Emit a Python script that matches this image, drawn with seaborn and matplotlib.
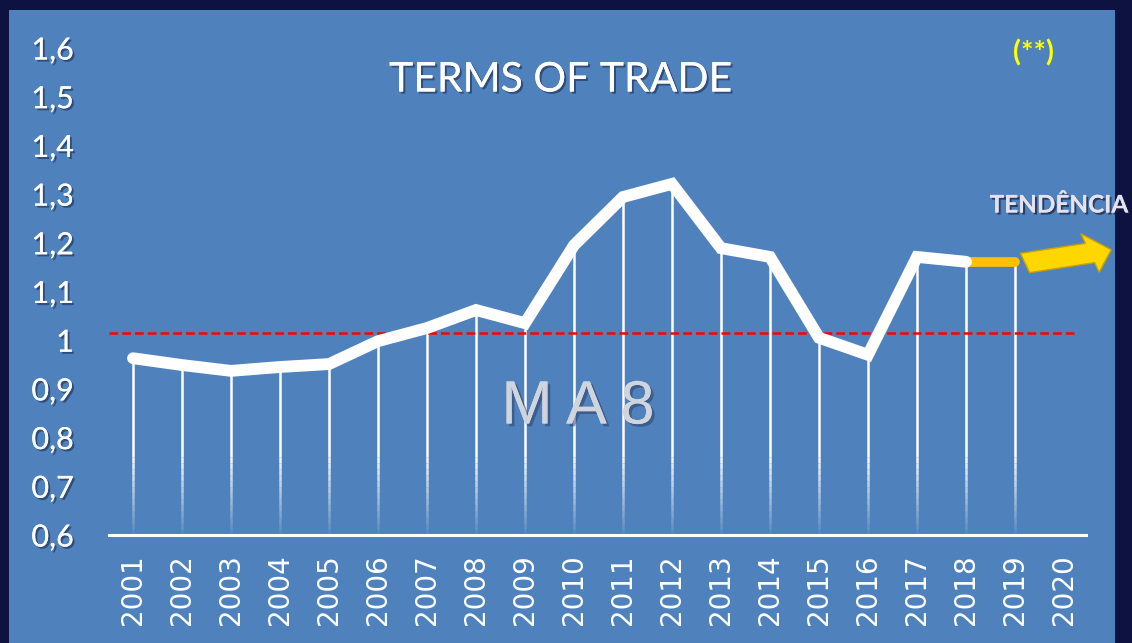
import matplotlib
matplotlib.use("Agg")
import matplotlib.pyplot as plt
import matplotlib.patheffects as pe
from matplotlib.patches import FancyArrow
import seaborn as sns
import pandas as pd
import numpy as np

years = [2001, 2002, 2003, 2004, 2005, 2006, 2007, 2008, 2009, 2010,
         2011, 2012, 2013, 2014, 2015, 2016, 2017, 2018]
values = [0.963, 0.949, 0.937, 0.945, 0.951, 0.998, 1.025, 1.062, 1.035, 1.195,
          1.294, 1.321, 1.189, 1.171, 1.005, 0.970, 1.171, 1.161]
trend_years = [2018, 2019]
trend_values = [1.161, 1.161]
tick_years = list(range(2001, 2021))
y_ticks = [0.6, 0.7, 0.8, 0.9, 1.0, 1.1, 1.2, 1.3, 1.4, 1.5, 1.6]
y_labels = ["0,6", "0,7", "0,8", "0,9", "1", "1,1", "1,2", "1,3", "1,4", "1,5", "1,6"]
ref_level = 1.015
title = "TERMS OF TRADE"

NAVY = "#0e1240"
BLUE = "#4f81bd"

sns.set_theme(style="white")
plt.rcParams["font.family"] = ["Lato", "DejaVu Sans"]

W, H = 1132, 643
fig = plt.figure(figsize=(W / 100, H / 100), dpi=100)
fig.patch.set_facecolor(NAVY)
# blue panel
fig.add_artist(plt.Rectangle((9 / W, 0), (1115 - 9) / W, (643 - 10) / H,
                             transform=fig.transFigure, facecolor=BLUE,
                             edgecolor="none", zorder=0))

ax = fig.add_axes([108.5 / W, (H - 535) / H, 980 / W, 487 / H])
ax.set_facecolor("none")
ax.set_xlim(2000.5, 2020.5)
ax.set_ylim(0.6, 1.6)
for s in ["top", "right", "left"]:
    ax.spines[s].set_visible(False)
ax.spines["bottom"].set_color("white")
ax.spines["bottom"].set_linewidth(2.2)
ax.spines["bottom"].set_bounds(2000.5, 2020.45)

# drop lines with fade toward axis
all_x = years + [trend_years[-1]]
all_y = values + [trend_values[-1]]
fade_start = 0.76
ax.vlines(all_x, [fade_start] * len(all_x), all_y, colors="white", linewidth=1.8, zorder=2)
steps = np.linspace(fade_start, 0.6, 14)
for i in range(len(steps) - 1):
    a = 1.0 - (i + 1) / (len(steps))
    ax.vlines(all_x, [steps[i + 1]] * len(all_x), [steps[i]] * len(all_x),
              colors="white", linewidth=1.8, alpha=max(a, 0.08), zorder=2)

# reference line
ax.plot([2000.5, 2020.2], [ref_level, ref_level], color="#ff0000",
        linestyle=(0, (3.5, 1.6)), linewidth=1.8, zorder=3)

df = pd.DataFrame({"year": years, "value": values})
dft = pd.DataFrame({"year": trend_years, "value": trend_values})
sns.lineplot(data=dft, x="year", y="value", ax=ax, color="#ffc000", linewidth=7,
             solid_capstyle="round", zorder=4)
sns.lineplot(data=df, x="year", y="value", ax=ax, color="white", linewidth=8.5,
             solid_capstyle="round", solid_joinstyle="miter", zorder=5)
ax.set_xlabel("")
ax.set_ylabel("")

ax.set_xticks(tick_years)
ax.set_xticklabels([str(y) for y in tick_years], rotation=90, fontsize=20,
                   color="white", family=["DejaVu Sans"])
ax.set_yticks(y_ticks)
ax.set_yticklabels(y_labels, fontsize=22, color="white")
ax.tick_params(axis="both", length=0)
ax.tick_params(axis="x", pad=14)
ax.tick_params(axis="y", pad=25)
shadow = [pe.withSimplePatchShadow(offset=(1.5, -1.5), shadow_rgbFace="#1a2a50", alpha=0.6), pe.Normal()]
for lab in ax.get_yticklabels():
    lab.set_path_effects(shadow)

fig.text(561 / W, 1 - 80 / H, title, ha="center", va="center", fontsize=29.5,
         color="white", path_effects=shadow)
fig.text(1034 / W, 1 - 53 / H, "(**)", ha="center", va="center", fontsize=21,
         color="#ffff00", fontweight="bold")
fig.text(1059 / W, 1 - 205 / H, "TENDÊNCIA", ha="center", va="center", fontsize=17.5,
         color="#e4e2ee", fontweight="bold",
         path_effects=[pe.withSimplePatchShadow(offset=(1.5, -1.5), shadow_rgbFace="#1a2040", alpha=0.7), pe.Normal()])
fig.text(578 / W, 1 - 408 / H, "M A 8", ha="center", va="center", fontsize=44,
         color="#d0d4dc", family=["Liberation Sans"],
         path_effects=[pe.withSimplePatchShadow(offset=(2, -2), shadow_rgbFace="#2a3a60", alpha=0.5), pe.Normal()])

# trend arrow
arr = FancyArrow(1025 / W, 1 - 263 / H, (1090 - 1025) / W, (263 - 253) / H,
                 width=20 / H, head_width=40 / H, head_length=22 / W,
                 length_includes_head=False, transform=fig.transFigure,
                 facecolor="#ffd700", edgecolor="#c9a000", linewidth=1, zorder=10)
fig.add_artist(arr)

fig.savefig("out.png", dpi=100, facecolor=fig.get_facecolor())
